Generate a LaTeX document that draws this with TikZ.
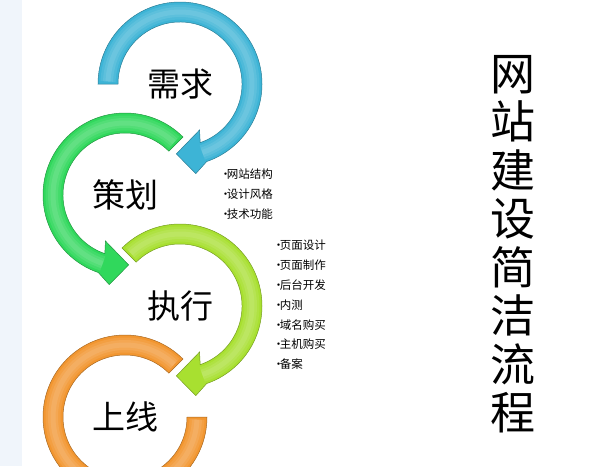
\documentclass[tikz,border=0pt]{standalone}
\usepackage{fontspec}
\setmainfont{Noto Sans CJK SC}
\definecolor{stripblue}{HTML}{F0F5FB}
\definecolor{ringblue}{HTML}{3DB4D6}
\definecolor{ringgreen}{HTML}{30D85C}
\definecolor{ringlime}{HTML}{A8E030}
\definecolor{ringorange}{HTML}{F29630}
\newcommand\itemdot{\kern-0.3em•\kern-0.38em}
\begin{document}
\begin{tikzpicture}[x=1pt,y=1pt,
  band/.style={draw=#1!70!black,line width=0.5pt,fill=#1},
  shine/.style={draw=white,line width=#1,opacity=0.09},
  stage/.style={font=\fontsize{33}{33}\selectfont,inner sep=0pt},
  items/.style={font=\fontsize{11.5}{19.8}\selectfont,align=left,anchor=west,inner sep=0pt,text=black}]
\useasboundingbox (0,0) rectangle (593,-466);
\clip (0,0) rectangle (593,-466);
\fill[stripblue] (0,0) rectangle (22,-466);

% stage names in the middle of the rings
\node[stage] (xuqiu) at (180,-84) {需求};
\node[stage] (cehua) at (125,-195) {策划};
\node[stage] (zhixing) at (180,-306) {执行};
\node[stage] (shangxian) at (125,-417) {上线};

% rings, last one first
\begin{scope}[shift={(shangxian.center)}]
\filldraw[band=ringorange] (45:82) arc[start angle=45,end angle=360,radius=82]
  -- (0:62) arc[start angle=360,end angle=45,radius=62] -- cycle;
\foreach \w in {15pt,10pt,5pt}
  \draw[shine=\w] (47:72) arc[start angle=47,end angle=358,radius=72];
\end{scope}
\begin{scope}[shift={(zhixing.center)}]
\filldraw[band=ringlime] (135:82) arc[start angle=135,end angle=-71,radius=82]
  -- (-80:91) -- (-93:70) -- (-67:50)
  -- (-71:62) arc[start angle=-71,end angle=135,radius=62] -- cycle;
\foreach \w in {15pt,10pt,5pt}
  \draw[shine=\w] (133:72) arc[start angle=133,end angle=-72,radius=72];
\end{scope}
\begin{scope}[shift={(cehua.center)}]
\filldraw[band=ringgreen] (45:82) arc[start angle=45,end angle=251,radius=82]
  -- (260:91) -- (273:70) -- (247:50)
  -- (251:62) arc[start angle=251,end angle=45,radius=62] -- cycle;
\foreach \w in {15pt,10pt,5pt}
  \draw[shine=\w] (47:72) arc[start angle=47,end angle=252,radius=72];
\end{scope}
\begin{scope}[shift={(xuqiu.center)}]
\filldraw[band=ringblue] (180:82) arc[start angle=180,end angle=-71,radius=82]
  -- (-80:91) -- (-93:70) -- (-67:50)
  -- (-71:62) arc[start angle=-71,end angle=180,radius=62] -- cycle;
\foreach \w in {15pt,10pt,5pt}
  \draw[shine=\w] (178:72) arc[start angle=178,end angle=-72,radius=72];
\end{scope}

% bullet lists
\node[items] (cehualist) at (223,-194)
  {\itemdot 网站结构\\\itemdot 设计风格\\\itemdot 技术功能};
\node[items] (zhixinglist) at (276,-305)
  {\itemdot 页面设计\\\itemdot 页面制作\\\itemdot 后台开发\\\itemdot 内测\\\itemdot 域名购买\\\itemdot 主机购买\\\itemdot 备案};

% vertical title
\node[font=\fontsize{45}{48.5}\selectfont,align=center,inner sep=0pt] (title) at (513,-244)
  {网\\站\\建\\设\\简\\洁\\流\\程};
\end{tikzpicture}
\end{document}
